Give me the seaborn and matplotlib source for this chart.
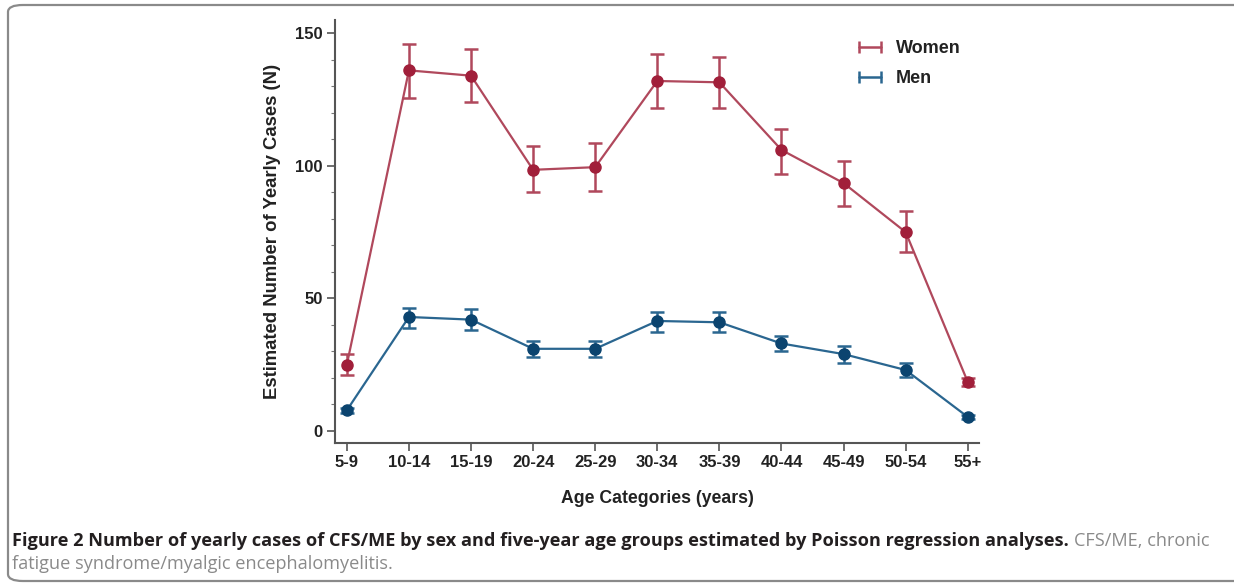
import numpy as np
import pandas as pd
import matplotlib
matplotlib.use("Agg")
import matplotlib.pyplot as plt
import seaborn as sns
from matplotlib.lines import Line2D
from matplotlib.patches import FancyBboxPatch
from matplotlib.ticker import MultipleLocator

# ---- data ----
age_groups = ["5-9", "10-14", "15-19", "20-24", "25-29", "30-34",
              "35-39", "40-44", "45-49", "50-54", "55+"]
women = [25, 136, 134, 98.5, 99.5, 132, 131.5, 106, 93.5, 75, 18.5]
women_lo = [21, 125.5, 124, 90, 90.5, 122, 122, 97, 85, 67.5, 17]
women_hi = [29, 146, 144, 107.5, 108.5, 142, 141, 114, 102, 83, 20]
men = [7.8, 43, 42, 31, 31, 41.5, 41, 33, 29, 23, 5.3]
men_lo = [6.8, 39, 38, 28, 28, 37.5, 37.5, 30, 25.5, 20.5, 4.6]
men_hi = [8.8, 46.5, 46, 34, 34, 45, 45, 36, 32, 25.5, 6.0]
series_names = ["Women", "Men"]

line_colors = {"Women": "#b0485c", "Men": "#2a6690"}
mark_colors = {"Women": "#a11f3a", "Men": "#0b446f"}

sns.set_theme(style="white")
plt.rcParams["font.family"] = ["Liberation Sans", "DejaVu Sans"]

pos = np.arange(len(age_groups))
df = pd.DataFrame({
    "pos": np.concatenate([pos, pos]),
    "value": women + men,
    "sex": ["Women"] * len(pos) + ["Men"] * len(pos),
})

fig = plt.figure(figsize=(12.34, 5.83), dpi=100)
ax = fig.add_axes([0.2715, 0.2407, 0.7933 - 0.2715, 0.9657 - 0.2407])

sns.lineplot(data=df, x="pos", y="value", hue="sex", palette=line_colors,
             ax=ax, legend=False, linewidth=1.6, zorder=2)

for name, v, lo, hi in [("Women", women, women_lo, women_hi),
                        ("Men", men, men_lo, men_hi)]:
    v = np.array(v); lo = np.array(lo); hi = np.array(hi)
    ax.errorbar(pos, v, yerr=[v - lo, hi - v], fmt="o", color=mark_colors[name],
                ecolor=line_colors[name], elinewidth=1.8, capsize=5, capthick=1.8,
                markersize=8, zorder=3)

ax.set_xlim(-0.19, 10.18)
ax.set_ylim(-4.4, 155)
ax.set_xticks(pos)
ax.set_xticklabels(age_groups)
ax.set_yticks([0, 50, 100, 150])
ax.yaxis.set_minor_locator(MultipleLocator(10))
ax.tick_params(axis="both", which="major", direction="out", length=6, width=1.2,
               color="#555555", labelsize=12, labelcolor="#222222", pad=3,
               bottom=True, left=True)
ax.tick_params(axis="y", which="minor", direction="out", length=3, width=0.8,
               color="#777777", left=True)
for lab in ax.get_xticklabels() + ax.get_yticklabels():
    lab.set_fontweight("bold")

for s in ["top", "right"]:
    ax.spines[s].set_visible(False)
for s in ["left", "bottom"]:
    ax.spines[s].set_color("#555555")
    ax.spines[s].set_linewidth(1.5)

ax.set_xlabel("Age Categories (years)", fontsize=12.7, fontweight="bold",
              color="#222222", labelpad=14)
ax.set_ylabel("Estimated Number of Yearly Cases (N)", fontsize=13.3,
              fontweight="bold", color="#222222", labelpad=10)

handles = [Line2D([0, 1], [0, 1], color=line_colors[n], marker="|", markersize=8,
                  markeredgewidth=1.8, linewidth=1.8) for n in series_names]
ax.legend(handles, series_names, loc="upper left", bbox_to_anchor=(0.78, 0.99),
          frameon=False, numpoints=2, handlelength=1.8, handletextpad=0.55,
          labelspacing=0.7, prop={"size": 13, "weight": "bold"},
          labelcolor="#222222")

# frame around the figure
frame = FancyBboxPatch((8 / 1234, 1 - 581 / 583), 1.5, (581 - 5) / 583,
                       boxstyle="round,pad=0,rounding_size=0.012",
                       transform=fig.transFigure, fill=False,
                       edgecolor="#8a8a8a", linewidth=1.6, zorder=0)
fig.patches.append(frame)

# caption
cap_font = ["Open Sans", "DejaVu Sans"]
cap_size = 13.1
y1 = 1 - 541 / 583
t1 = fig.text(12 / 1234, y1,
              "Figure 2 Number of yearly cases of CFS/ME by sex and five-year age groups estimated by Poisson regression analyses.",
              fontsize=cap_size, fontweight="bold", color="#231f20", family=cap_font,
              va="center", ha="left")
fig.canvas.draw()
bb = t1.get_window_extent()
fig.text((bb.x1 + 5) / 1234, y1, "CFS/ME, chronic",
         fontsize=cap_size, color="#8a8a8a", family=cap_font, va="center", ha="left")
fig.text(12 / 1234, 1 - 564 / 583, "fatigue syndrome/myalgic encephalomyelitis.",
         fontsize=cap_size, color="#8a8a8a", family=cap_font, va="center", ha="left")

fig.savefig("out.png", dpi=100, facecolor="white")
